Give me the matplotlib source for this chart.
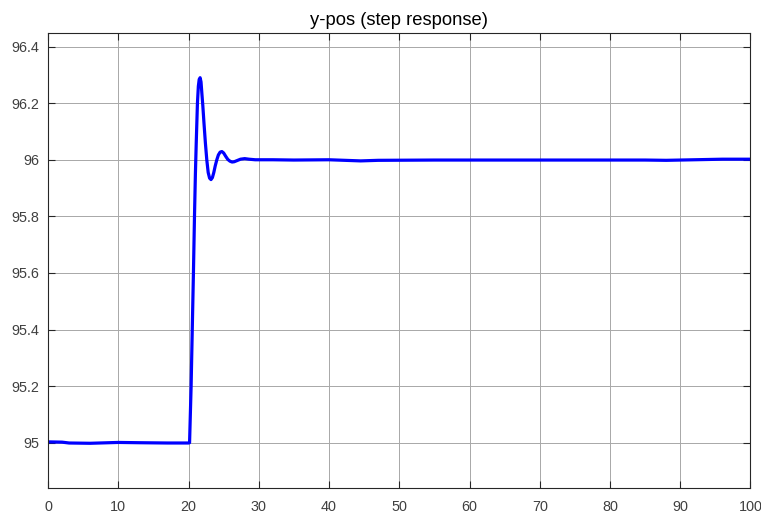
import matplotlib

matplotlib.use("Agg")
import matplotlib.pyplot as plt
from matplotlib.ticker import FuncFormatter

t = [0, 2, 3, 6, 10, 13, 17, 20.0, 20.15,
     20.37, 20.55, 20.70, 20.85, 20.98, 21.10, 21.27, 21.40, 21.52, 21.65,
     21.78, 21.90, 22.04, 22.20, 22.40, 22.60, 22.80, 23.00, 23.20, 23.40,
     23.60, 23.80, 24.03, 24.25, 24.50, 24.75, 25.00, 25.30, 25.60, 25.90,
     26.20, 26.50, 26.90, 27.40, 28.00, 28.60, 29.50, 32, 35, 40, 44.5, 47,
     55, 65, 75, 85, 88, 92, 96, 100]
y = [95.003, 95.002, 94.999, 94.998, 95.001, 95.000, 94.999, 94.999, 95.000,
     95.20, 95.42, 95.60, 95.80, 95.95, 96.06, 96.20, 96.26, 96.284, 96.290,
     96.275, 96.235, 96.19, 96.13, 96.06, 96.00, 95.955, 95.935, 95.930, 95.937,
     95.955, 95.978, 96.000, 96.017, 96.027, 96.029, 96.024, 96.012, 96.001, 95.995,
     95.992, 95.993, 95.997, 96.002, 96.004, 96.002, 96.000, 96.000, 95.999, 96.000, 95.996, 95.998,
     95.999, 95.999, 95.999, 95.999, 95.998, 96.000, 96.002, 96.002]

x_ticks = list(range(0, 101, 10))
y_ticks = [95.0, 95.2, 95.4, 95.6, 95.8, 96.0, 96.2, 96.4]

plt.rcParams["font.family"] = ["Liberation Sans", "DejaVu Sans"]

fig = plt.figure(figsize=(7.61, 5.14), dpi=100)
ax = fig.add_axes([0.0631, 0.0506, 0.9231, 0.8852])

ax.plot(t, y, color="#0000ff", lw=2.3, solid_joinstyle="round")

ax.set_xlim(0, 100)
ax.set_ylim(94.84, 96.448)
ax.set_xticks(x_ticks)
ax.set_yticks(y_ticks)
ax.yaxis.set_major_formatter(FuncFormatter(lambda v, _: "{:g}".format(round(v, 2))))
ax.grid(True, color="#a8a8a8", lw=0.7)
ax.set_axisbelow(True)

for s in ax.spines.values():
    s.set_color("#262626")
    s.set_linewidth(0.8)
ax.tick_params(direction="in", length=5, width=0.8, color="#262626",
               labelcolor="#404040", labelsize=10.4, top=True, right=True)
ax.tick_params(axis="x", pad=9)
ax.tick_params(axis="y", pad=6)

ax.set_title("y-pos (step response)", fontsize=13.2, color="#000000", pad=6)

fig.savefig("out.png", dpi=100)
